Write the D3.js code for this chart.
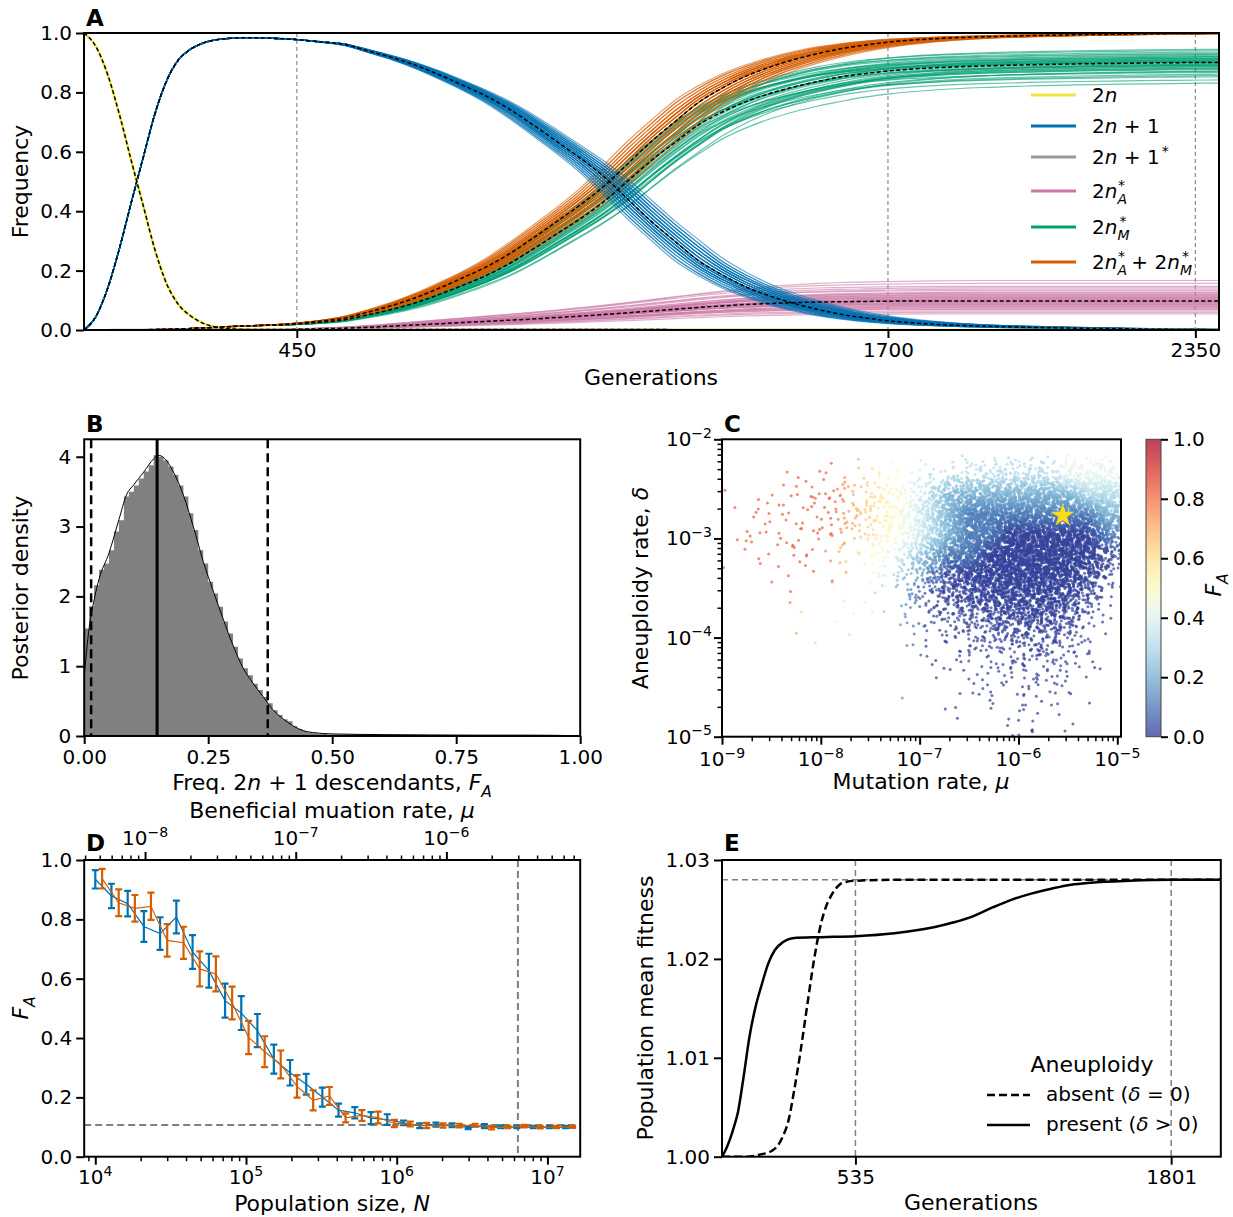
<!DOCTYPE html>
<html>
<head>
<meta charset="utf-8">
<script src="https://cdn.jsdelivr.net/npm/d3@7/dist/d3.min.js"></script>
<style>
  body { margin: 0; background: #fff; }
</style>
</head>
<body>
<div id="fig"></div>
<script>
// ---------------- Panel A: mean frequency trajectories ----------------
var gens = [0,25,50,75,100,125,150,175,200,225,250,275,300,350,400,
  450,500,550,600,650,700,750,800,850,900,950,1000,1050,1100,1150,1200,1250,1300,1350,1400,1450,1500,1550,1600,1650,1700,
  1800,1900,2000,2100,2200,2300,2400];
var freq2n = [1.0,0.955,0.86,0.725,0.57,0.42,0.27,0.155,0.085,0.048,0.024,0.011,0.005,0.001,0,
  0,0,0,0,0,0,0,0,0,0,0,0,0,0,0,0,0,0,0,0,0,0,0,0,0,0,
  0,0,0,0,0,0,0];
var freq2n1 = [0,0.045,0.14,0.275,0.43,0.58,0.728,0.84,0.91,0.945,0.965,0.976,0.981,0.984,0.982,
  0.978,0.97,0.962,0.94,0.918,0.892,0.86,0.825,0.788,0.743,0.69,0.634,0.578,0.515,0.44,0.365,0.298,0.233,0.185,0.145,0.115,0.09,0.07,0.053,0.041,0.031,
  0.019,0.013,0.009,0.006,0.004,0.002,0.001];
var freq2n1star = [0,0,0,0.001,0.001,0.001,0.002,0.002,0.002,0.002,0.002,0.002,0.002,0.002,0.002,
  0.002,0.002,0.002,0.002,0.002,0.002,0.002,0.002,0.002,0.002,0.002,0.002,0.002,0.002,0.002,0.002,0.001,0.001,0.001,0.001,0.001,0.001,0.001,0.001,0.001,null,
  null,null,null,null,null,null,null];
var freqA = [0,0,0,0,0,0,0,0,0,0,0,0,0,0,0,
  0.002,0.004,0.006,0.009,0.013,0.017,0.021,0.025,0.029,0.033,0.037,0.042,0.047,0.052,0.058,0.064,0.07,0.076,0.081,0.086,0.089,0.092,0.094,0.095,0.096,0.097,
  0.098,0.098,0.098,0.098,0.098,0.098,0.098];
var freqM = [0,0,0,0,0,0,0.001,0.002,0.003,0.005,0.007,0.009,0.011,0.014,0.017,
  0.02,0.026,0.034,0.051,0.069,0.091,0.119,0.15,0.183,0.224,0.273,0.324,0.375,0.433,0.502,0.571,0.632,0.691,0.734,0.769,0.796,0.818,0.836,0.852,0.863,0.872,
  0.883,0.889,0.893,0.896,0.898,0.9,0.901];
var freqAM = [0,0,0,0,0,0,0.001,0.002,0.003,0.005,0.007,0.009,0.011,0.014,0.017,
  0.022,0.03,0.04,0.06,0.082,0.108,0.14,0.175,0.212,0.257,0.31,0.366,0.422,0.485,0.56,0.635,0.702,0.767,0.815,0.855,0.885,0.91,0.93,0.947,0.959,0.969,
  0.981,0.987,0.991,0.994,0.996,0.998,0.999];
// replicate runs: relative sweep speed and relative size of the 2n_A* plateau
var repRate = [0.95,0.97,1.02,0.99,1.04,0.96,1.01,1.00,0.98,1.03,1.06,0.94,0.99,1.02,1.00,0.97,1.05,0.98,1.01,0.96,
  1.03,0.99,1.00,1.02,0.95,1.04,0.98,1.01,0.97,1.00,1.03,0.96,1.02,0.99,1.05,0.98,1.01,0.97,1.00,1.02];
var repAshare = [1.12,0.85,1.35,0.95,0.7,1.05,1.5,0.9,1.2,0.6,1.0,1.28,0.8,1.1,0.55,1.4,0.98,1.15,0.75,1.7,
  0.88,1.03,1.25,0.65,1.08,0.93,1.45,0.82,1.18,1.0,0.72,1.3,0.97,1.6,0.86,1.06,0.78,1.22,0.92,1.12];
var aTicks = [450, 1700, 2350];
var aYTicks = [0, 0.2, 0.4, 0.6, 0.8, 1.0];

// ---------------- Panel B: posterior of F_A ----------------
var binWidth = 0.01;
var histDensity = [1.54,1.86,2.16,2.38,2.47,2.66,2.93,3.09,3.43,3.50,
  3.59,3.69,3.79,3.88,4.02,4.00,3.95,3.86,3.74,3.59,
  3.43,3.19,2.95,2.66,2.47,2.21,2.04,1.85,1.64,1.47,
  1.28,1.11,0.97,0.87,0.75,0.66,0.56,0.47,0.37,0.30,
  0.24,0.21,0.14,0.10,0.07,0.05,0.04,0.03,0.03,0.02,
  0.02,0.02,0.02,0.02,0.02,0.02,0.02,0.02,0.015,0.015,
  0.015,0.015,0.015,0.015,0.015,0.015,0.015,0.015,0.015,0.015,
  0.015,0.015,0.015,0.015,0.015,0.012,0.012,0.012,0.012,0.012,
  0.012,0.012,0.012,0.012,0.012,0.012,0.012,0.012,0.012,0.012,
  0.012,0.012,0.012,0.012,0.012,0.01,0.01,0.01,0.008,0.006];
var kdeX = [0,0.01,0.02,0.03,0.05,0.07,0.085,0.1,0.12,0.14,0.15,0.16,0.18,0.2,0.22,0.24,0.26,0.28,0.3,0.32,0.34,0.36,0.38,0.4,0.42,0.44,0.46,0.5,0.6,0.7,0.8,0.9,0.95,1.0];
var kdeY = [0.85,1.55,1.95,2.25,2.62,3.1,3.45,3.6,3.78,3.97,4.02,3.99,3.78,3.45,3.0,2.5,2.08,1.68,1.3,0.98,0.76,0.57,0.38,0.25,0.15,0.08,0.05,0.03,0.02,0.015,0.012,0.012,0.01,0.003];
var faMedian = 0.147;
var faInterval = [0.014, 0.37];
var bXTicks = [0, 0.25, 0.5, 0.75, 1.0];
var bYTicks = [0, 1, 2, 3, 4];

// ---------------- Panel C: posterior sample density (cells of 0.2 decades) ----------------
// columns: log10(mu) from -9 in steps of 0.2; rows: log10(delta) from gridTop downwards in steps of 0.2
var cCount = [
  [0,0,0,0,0,0,0,0,0,0,0,0,0,0,0,0,0,0,0,0],
  [0,0,0,1,2,2,3,4,5,4,6,14,25,30,35,38,40,40,40,38],
  [1,1,2,5,6,8,10,15,18,22,45,85,120,140,150,150,150,150,150,140],
  [2,2,3,5,6,8,12,20,25,45,85,150,170,170,170,170,170,170,170,150],
  [2,4,3,5,5,7,8,12,15,30,80,140,170,180,180,180,180,180,170,120],
  [2,2,3,3,3,3,5,8,15,40,80,130,170,180,190,190,190,180,150,60],
  [0,0,1,1,2,2,2,3,6,20,45,80,130,160,180,180,170,150,90,25],
  [0,0,1,1,0,1,0,2,3,10,25,50,80,110,130,140,130,100,45,6],
  [0,0,0,1,1,1,1,0,2,5,12,25,40,60,80,90,85,55,18,2],
  [0,0,0,1,1,0,1,0,0,3,6,10,15,25,35,40,40,25,6,1],
  [0,0,0,0,0,0,0,0,0,2,3,4,8,10,15,20,18,12,5,0],
  [0,0,0,0,0,0,0,0,0,0,1,2,4,6,8,10,10,7,3,0],
  [0,0,0,0,0,0,0,0,0,1,0,1,3,4,5,6,5,3,1,0],
  [0,0,0,0,0,0,0,0,0,0,1,0,1,2,2,4,3,2,0,0],
  [0,0,0,0,0,0,0,0,0,0,0,0,0,0,2,3,3,1,0,0]
];
// typical F_A around each cell: digit d means F_A = d/10 + 0.02
var cFA = [
  "88888876543333333444",
  "88888876543333333444",
  "88888876543222222233",
  "88888876543211111112",
  "88888876543211000001",
  "88888765432110000000",
  "88888865321000000000",
  "88888763210000000000",
  "88875544210000000000",
  "88876633210000000000",
  "88876633210000000000",
  "88876633210000000000",
  "88876633210000000000",
  "88876633210000000000",
  "88876633210000000000"
];
var gridLeft = -9, gridTop = -2.05, cellStep = 0.2;
var starMu = 2.8e-6, starDelta = 1.7e-3;
var cbTicks = [0, 0.2, 0.4, 0.6, 0.8, 1.0];

// ---------------- Panel D: F_A against population size ----------------
var blueN = [1.00e4,1.28e4,1.64e4,2.10e4,2.69e4,3.45e4,4.42e4,5.67e4,7.26e4,9.30e4,1.19e5,1.53e5,1.96e5,2.51e5,3.21e5,
  4.11e5,5.27e5,6.75e5,8.65e5,1.11e6,1.42e6,1.82e6,2.33e6,2.98e6,3.82e6,4.90e6,6.27e6,8.04e6,1.03e7,1.32e7];
var blueFA = [0.935,0.879,0.853,0.776,0.752,0.808,0.69,0.627,0.526,0.484,0.425,0.329,0.283,0.244,0.201,
  0.157,0.148,0.13,0.125,0.114,0.104,0.108,0.106,0.098,0.103,0.101,0.10,0.10,0.10,0.10];
var blueErr = [0.031,0.041,0.043,0.052,0.055,0.055,0.057,0.057,0.057,0.057,0.056,0.049,0.043,0.035,0.032,
  0.022,0.019,0.02,0.018,0.008,0.008,0.007,0.006,0.005,0.007,0.005,0.004,0.004,0.004,0.004];
var orangeN = [1.11e4,1.43e4,1.83e4,2.34e4,3.00e4,3.85e4,4.93e4,6.31e4,8.09e4,1.04e5,1.33e5,1.70e5,2.18e5,2.79e5,3.58e5,
  4.58e5,5.87e5,7.52e5,9.64e5,1.23e6,1.58e6,2.03e6,2.60e6,3.32e6,4.26e6,5.46e6,6.99e6,8.96e6,1.15e7,1.47e7];
var orangeFA = [0.937,0.856,0.837,0.844,0.729,0.721,0.633,0.616,0.518,0.402,0.354,0.311,0.237,0.19,0.205,
  0.131,0.139,0.132,0.112,0.11,0.105,0.105,0.105,0.106,0.098,0.1,0.103,0.099,0.1,0.1];
var orangeErr = [0.033,0.045,0.045,0.046,0.055,0.054,0.059,0.059,0.055,0.056,0.052,0.047,0.038,0.034,0.03,
  0.015,0.018,0.02,0.012,0.008,0.009,0.007,0.006,0.005,0.006,0.004,0.004,0.004,0.004,0.003];
var dNref = 6.37e6, dFref = 0.107;
var dYTicks = [0, 0.2, 0.4, 0.6, 0.8, 1.0];

// ---------------- Panel E: population mean fitness ----------------
var absentGen = [0,100,150,200,220,243,267,290,314,340,369,390,408,440,471,500,535,700,1000,2000];
var absentFit = [1.0,1.0,1.0002,1.0006,1.001,1.002,1.0037,1.0068,1.0105,1.015,1.0199,1.0228,1.0246,1.0265,1.0275,1.0278,1.0279,1.028,1.028,1.028];
var presentGen = [0,15,31,50,63,85,110,135,157,185,212,245,283,400,535,692,849,930,1006,1085,1163,1240,1321,1400,1478,1635,1801,2000];
var presentFit = [1.0,1.0007,1.0017,1.0032,1.0044,1.0078,1.0121,1.0152,1.0172,1.0195,1.0209,1.0217,1.0221,1.0222,1.0223,1.0226,1.0232,1.0237,1.0243,1.0252,1.026,1.0266,1.0271,1.0275,1.0277,1.0279,1.028,1.028];
var eTicks = [535, 1801];
var eYTicks = [1.00, 1.01, 1.02, 1.03];
var eFitMax = 1.028;

// ---------------------------------------------------------------------
var FONT = '"DejaVu Sans", sans-serif';
var TICK_FS = 20, LABEL_FS = 22;

var svg = d3.select("#fig").append("svg")
  .attr("width", 1233).attr("height", 1217)
  .attr("font-family", FONT);
svg.append("rect").attr("width", 1233).attr("height", 1217).attr("fill", "#fff");
var defs = svg.append("defs");

function clip(id, box) {
  defs.append("clipPath").attr("id", id).append("rect")
    .attr("x", box.l).attr("y", box.t).attr("width", box.r - box.l).attr("height", box.b - box.t);
}
function frame(box) {
  svg.append("rect").attr("x", box.l).attr("y", box.t)
    .attr("width", box.r - box.l).attr("height", box.b - box.t)
    .attr("fill", "none").attr("stroke", "#000").attr("stroke-width", 2);
}
function styleAxis(g, w) {
  g.attr("font-family", FONT).attr("font-size", TICK_FS);
  g.select(".domain").remove();
  g.selectAll(".tick line").attr("stroke-width", w || 2);
  g.selectAll(".tick text").attr("fill", "#000");
}
// text with italics, subscripts and superscripts
function rich(text, parts, fs) {
  var level = 0;
  parts.forEach(function (p) {
    var want = p.sub ? 0.3 * fs : (p.sup ? -0.42 * fs : 0);
    var ts = text.append("tspan").text(p.t).attr("dy", want - level);
    level = want;
    if (p.sub || p.sup) ts.attr("font-size", 0.7 * fs);
    if (p.it) ts.attr("font-style", "italic");
    if (p.dx) ts.attr("dx", p.dx);
  });
  return text;
}
function label(x, y, parts, opts) {
  opts = opts || {};
  var t = svg.append("text").attr("font-size", opts.fs || LABEL_FS)
    .attr("text-anchor", opts.anchor || "middle");
  if (opts.rotate) t.attr("transform", "translate(" + x + "," + y + ") rotate(-90)");
  else t.attr("x", x).attr("y", y);
  if (opts.bold) t.attr("font-weight", "bold");
  return rich(t, parts, opts.fs || LABEL_FS);
}
function powText(t, e) {
  t.append("tspan").text("10");
  t.append("tspan").attr("dy", -0.42 * TICK_FS).attr("font-size", 0.7 * TICK_FS)
    .text(e < 0 ? "\u2212" + (-e) : String(e));
}
function decades(dom) {
  var a = [];
  for (var e = Math.ceil(Math.log10(dom[0]) - 1e-9); e <= Math.floor(Math.log10(dom[1]) + 1e-9); e++) a.push(e);
  return a;
}
function minors(dom) {
  var a = [];
  for (var e = Math.floor(Math.log10(dom[0])); e <= Math.ceil(Math.log10(dom[1])); e++)
    for (var m = 2; m <= 9; m++) {
      var v = m * Math.pow(10, e);
      if (v >= dom[0] && v <= dom[1]) a.push(v);
    }
  return a;
}
// log axis along x (bottom or top) with 10^k labels
function logAxisX(scale, y, top, baseline) {
  var dom = scale.domain();
  var mk = top ? d3.axisTop : d3.axisBottom;
  svg.append("g").attr("transform", "translate(0," + y + ")")
    .call(mk(scale).tickValues(minors(dom)).tickSize(4.5).tickFormat(""))
    .call(styleAxis, 1.5);
  svg.append("g").attr("transform", "translate(0," + y + ")")
    .call(mk(scale).tickValues(decades(dom).map(function (e) { return Math.pow(10, e); })).tickSize(8).tickFormat(""))
    .call(styleAxis);
  decades(dom).forEach(function (e) {
    var t = svg.append("text").attr("x", scale(Math.pow(10, e))).attr("y", baseline)
      .attr("text-anchor", "middle").attr("font-size", TICK_FS);
    powText(t, e);
  });
}
function logAxisY(scale, x, labelX) {
  var dom = scale.domain();
  svg.append("g").attr("transform", "translate(" + x + ",0)")
    .call(d3.axisLeft(scale).tickValues(minors(dom)).tickSize(4.5).tickFormat(""))
    .call(styleAxis, 1.5);
  svg.append("g").attr("transform", "translate(" + x + ",0)")
    .call(d3.axisLeft(scale).tickValues(decades(dom).map(function (e) { return Math.pow(10, e); })).tickSize(8).tickFormat(""))
    .call(styleAxis);
  decades(dom).forEach(function (e) {
    var t = svg.append("text").attr("x", labelX).attr("y", scale(Math.pow(10, e)) + 7)
      .attr("text-anchor", "end").attr("font-size", TICK_FS);
    powText(t, e);
  });
}

// ============================ Panel A ============================
var A = {l: 84, r: 1219, t: 33, b: 330};
var xA = d3.scaleLinear().domain([0, 2400]).range([A.l, A.r]);
var yA = d3.scaleLinear().domain([0, 1]).range([A.b, A.t]);
clip("clipA", A);
var gA = svg.append("g").attr("clip-path", "url(#clipA)");

aTicks.forEach(function (t) {
  gA.append("line").attr("x1", xA(t)).attr("x2", xA(t)).attr("y1", A.t).attr("y2", A.b)
    .attr("stroke", "#8c8c8c").attr("stroke-width", 1.2).attr("stroke-dasharray", "4,3");
});

function interp(ys) {
  var g = [], v = [];
  gens.forEach(function (t, i) { if (ys[i] != null) { g.push(t); v.push(ys[i]); } });
  return d3.scaleLinear().domain(g).range(v).clamp(true);
}
function stretch(t, pivot, k) { return t < pivot ? t : pivot + (t - pivot) * k; }
var fAM = interp(freqAM), fA = interp(freqA), f1 = interp(freq2n1);
var lineA = d3.line().x(function (d) { return xA(d[0]); }).y(function (d) { return yA(d[1]); })
  .curve(d3.curveMonotoneX);

var reps = repRate.map(function (k, i) {
  var am = gens.map(function (t) { return [t, fAM(stretch(t, 300, k))]; });
  var a = gens.map(function (t) { return [t, fA(stretch(t, 400, k)) * repAshare[i]]; });
  var m = am.map(function (d, j) { return [d[0], Math.max(0, d[1] - a[j][1])]; });
  var b = gens.map(function (t) { return [t, f1(stretch(t, 400, k))]; });
  return {am: am, a: a, m: m, b: b};
});

function repLines(key, color, op) {
  gA.append("g").selectAll("path").data(reps).enter().append("path")
    .attr("d", function (d) { return lineA(d[key]); })
    .attr("fill", "none").attr("stroke", color).attr("stroke-width", 1.2).attr("stroke-opacity", op);
}
repLines("m", "#009e73", 0.6);
repLines("am", "#d55e00", 0.6);
repLines("a", "#cc79a7", 0.6);
repLines("b", "#0072b2", 0.6);

gA.append("path").datum(gens.map(function (t, i) { return [t, freq2n1star[i]]; }).filter(function (d) { return d[1] != null; }))
  .attr("d", lineA).attr("fill", "none").attr("stroke", "#999999").attr("stroke-width", 2);
gA.append("path").datum(gens.map(function (t, i) { return [t, freq2n[i]]; }))
  .attr("d", lineA).attr("fill", "none").attr("stroke", "#f0e442").attr("stroke-width", 2.5);

[freq2n, freq2n1, freq2n1star, freqA, freqM, freqAM].forEach(function (ys) {
  gA.append("path")
    .datum(gens.map(function (t, i) { return [t, ys[i]]; }).filter(function (d) { return d[1] != null; }))
    .attr("d", lineA).attr("fill", "none").attr("stroke", "#000").attr("stroke-width", 1.5)
    .attr("stroke-dasharray", "4,2.5");
});

// legend
var legendA = [
  {c: "#f0e442", y: 95, parts: [{t: "2"}, {t: "n", it: 1}]},
  {c: "#0072b2", y: 126, parts: [{t: "2"}, {t: "n", it: 1}, {t: " + 1"}]},
  {c: "#999999", y: 157, parts: [{t: "2"}, {t: "n", it: 1}, {t: " + 1"}, {t: "*", sup: 1, dx: 2}]},
  {c: "#cc79a7", y: 191, parts: [{t: "2"}, {t: "n", it: 1}, {t: "A", sub: 1, it: 1}, {t: "*", sup: 1, dx: -9}]},
  {c: "#009e73", y: 227, parts: [{t: "2"}, {t: "n", it: 1}, {t: "M", sub: 1, it: 1}, {t: "*", sup: 1, dx: -10}]},
  {c: "#d55e00", y: 262, parts: [{t: "2"}, {t: "n", it: 1}, {t: "A", sub: 1, it: 1}, {t: "*", sup: 1, dx: -9},
    {t: " + 2"}, {t: "n", it: 1}, {t: "M", sub: 1, it: 1}, {t: "*", sup: 1, dx: -10}]}
];
legendA.forEach(function (L) {
  svg.append("line").attr("x1", 1031).attr("x2", 1076).attr("y1", L.y).attr("y2", L.y)
    .attr("stroke", L.c).attr("stroke-width", 3);
  label(1092, L.y + 7, L.parts, {anchor: "start", fs: 20});
});

svg.append("g").attr("transform", "translate(" + A.l + ",0)")
  .call(d3.axisLeft(yA).tickValues(aYTicks).tickFormat(d3.format(".1f")).tickSize(8).tickPadding(4))
  .call(styleAxis);
svg.append("g").attr("transform", "translate(0," + A.b + ")")
  .call(d3.axisBottom(xA).tickValues(aTicks).tickFormat(d3.format("d")).tickSize(8).tickPadding(5))
  .call(styleAxis);
frame(A);
label(651, 385, [{t: "Generations"}]);
label(28, 181.5, [{t: "Frequency"}], {rotate: 1});
label(86, 26, [{t: "A"}], {anchor: "start", bold: 1, fs: 23});

// ============================ Panel B ============================
var B = {l: 84.2, r: 580.2, t: 439.3, b: 736};
var xB = d3.scaleLinear().domain([0, 1]).range([B.l, B.r]);
var yB = d3.scaleLinear().domain([0, 4.25]).range([B.b, B.t]);
clip("clipB", B);
var gB = svg.append("g").attr("clip-path", "url(#clipB)");
var histSteps = histDensity.map(function (d, i) { return [i * binWidth, d]; });
histSteps.push([histDensity.length * binWidth, histDensity[histDensity.length - 1]]);
gB.append("path").datum(histSteps)
  .attr("d", d3.area().x(function (d) { return xB(d[0]); }).y0(yB(0)).y1(function (d) { return yB(d[1]); })
    .curve(d3.curveStepAfter))
  .attr("fill", "#808080");
gB.append("path").datum(kdeX.map(function (x, i) { return [x, kdeY[i]]; }))
  .attr("d", d3.line().x(function (d) { return xB(d[0]); }).y(function (d) { return yB(d[1]); }).curve(d3.curveMonotoneX))
  .attr("fill", "none").attr("stroke", "#000").attr("stroke-width", 1);
gB.append("line").attr("x1", xB(faMedian)).attr("x2", xB(faMedian)).attr("y1", B.t).attr("y2", B.b)
  .attr("stroke", "#000").attr("stroke-width", 3);
faInterval.forEach(function (v) {
  gB.append("line").attr("x1", xB(v)).attr("x2", xB(v)).attr("y1", B.t).attr("y2", B.b)
    .attr("stroke", "#000").attr("stroke-width", 2.5).attr("stroke-dasharray", "9,5");
});
svg.append("g").attr("transform", "translate(" + B.l + ",0)")
  .call(d3.axisLeft(yB).tickValues(bYTicks).tickFormat(d3.format("d")).tickSize(8).tickPadding(5))
  .call(styleAxis);
svg.append("g").attr("transform", "translate(0," + B.b + ")")
  .call(d3.axisBottom(xB).tickValues(bXTicks).tickFormat(d3.format(".2f")).tickSize(8).tickPadding(6))
  .call(styleAxis);
frame(B);
label(332, 790, [{t: "Freq. 2"}, {t: "n", it: 1}, {t: " + 1 descendants, "}, {t: "F", it: 1}, {t: "A", sub: 1, it: 1}]);
label(28, 588, [{t: "Posterior density"}], {rotate: 1});
label(86, 432, [{t: "B"}], {anchor: "start", bold: 1, fs: 23});

// ============================ Panel C ============================
var C = {l: 722, r: 1121, t: 439.3, b: 736.7};
var xC = d3.scaleLog().domain([1e-9, 1.09e-5]).range([C.l, C.r]);
var yC = d3.scaleLog().domain([1e-5, 1e-2]).range([C.b, C.t]);
var faColor = function (f) { return d3.interpolateRdYlBu(1 - f); };
var nRows = cFA.length, nCols = cFA[0].length;
function cellFA(r, c) {
  r = Math.max(0, Math.min(nRows - 1, r));
  c = Math.max(0, Math.min(nCols - 1, c));
  return +cFA[r][c] / 10 + 0.02;
}
// blend the cell values between neighbouring cell centres
function faAt(cu, rv) {
  var x = cu - 0.5, y = rv - 0.5;
  var c0 = Math.floor(x), r0 = Math.floor(y), tx = x - c0, ty = y - r0;
  var top = d3.interpolateNumber(cellFA(r0, c0), cellFA(r0, c0 + 1))(tx);
  var bot = d3.interpolateNumber(cellFA(r0 + 1, c0), cellFA(r0 + 1, c0 + 1))(tx);
  return d3.interpolateNumber(top, bot)(ty);
}
// Halton sequence for spreading each cell's samples (tent profile over neighbours)
function halton(i, b) {
  var f = 1, r = 0;
  while (i > 0) { f /= b; r += f * (i % b); i = Math.floor(i / b); }
  return r;
}
clip("clipC", C);
var gC = svg.append("g").attr("clip-path", "url(#clipC)");
var pts = [];
var seq = 200;
cCount.forEach(function (row, r) {
  row.forEach(function (n, c) {
    for (var i = 0; i < n; i++) {
      seq++;
      var u = c - 0.5 + halton(seq, 2) + halton(seq, 5);
      var v = r - 0.5 + halton(seq, 3) + halton(seq, 7);
      pts.push({
        mu: Math.pow(10, gridLeft + cellStep * u),
        delta: Math.pow(10, gridTop - cellStep * v),
        fa: faAt(u, v)
      });
    }
  });
});
gC.selectAll("circle").data(pts).enter().append("circle")
  .attr("cx", function (d) { return xC(d.mu); })
  .attr("cy", function (d) { return yC(d.delta); })
  .attr("r", 1.5)
  .attr("fill", function (d) { return faColor(d.fa); })
  .attr("fill-opacity", 0.72);
gC.append("path").attr("d", d3.symbol(d3.symbolStar, 170)())
  .attr("transform", "translate(" + xC(starMu) + "," + yC(starDelta) + ")")
  .attr("fill", "#f7dc16");
logAxisX(xC, C.b, false, 766);
logAxisY(yC, C.l, 712);
frame(C);
label(921, 789, [{t: "Mutation rate, "}, {t: "\u03bc", it: 1}]);
label(648, 588, [{t: "Aneuploidy rate, "}, {t: "\u03b4", it: 1}], {rotate: 1});
label(724, 432, [{t: "C"}], {anchor: "start", bold: 1, fs: 23});

// colorbar
var CB = {l: 1146, r: 1161, t: 439.3, b: 736.7};
var cbScale = d3.scaleLinear().domain([0, 1]).range([CB.b, CB.t]);
var grad = defs.append("linearGradient").attr("id", "cbGrad")
  .attr("x1", 0).attr("y1", 1).attr("x2", 0).attr("y2", 0);
d3.range(0, 1.0001, 0.05).forEach(function (f) {
  grad.append("stop").attr("offset", f).attr("stop-color", faColor(f));
});
svg.append("rect").attr("x", CB.l).attr("y", CB.t).attr("width", CB.r - CB.l).attr("height", CB.b - CB.t)
  .attr("fill", "url(#cbGrad)").attr("fill-opacity", 0.75).attr("stroke", "#444").attr("stroke-width", 1);
svg.append("g").attr("transform", "translate(" + CB.r + ",0)")
  .call(d3.axisRight(cbScale).tickValues(cbTicks).tickFormat(d3.format(".1f")).tickSize(7).tickPadding(5))
  .call(styleAxis);
label(1221, 585, [{t: "F", it: 1}, {t: "A", sub: 1, it: 1}], {rotate: 1});

// ============================ Panel D ============================
var D = {l: 84.2, r: 580.2, t: 860, b: 1156.7};
var xD = d3.scaleLog().domain([8.44e3, 1.65e7]).range([D.l, D.r]);
var xDmu = d3.scaleLog().domain([3.945e-9, 7.73e-6]).range([D.l, D.r]);
var yD = d3.scaleLinear().domain([0, 1]).range([D.b, D.t]);
clip("clipD", D);
var gD = svg.append("g").attr("clip-path", "url(#clipD)");
gD.append("line").attr("x1", D.l).attr("x2", D.r).attr("y1", yD(dFref)).attr("y2", yD(dFref))
  .attr("stroke", "#808080").attr("stroke-width", 2).attr("stroke-dasharray", "7,4");
gD.append("line").attr("x1", xD(dNref)).attr("x2", xD(dNref)).attr("y1", D.t).attr("y2", D.b)
  .attr("stroke", "#808080").attr("stroke-width", 2).attr("stroke-dasharray", "7,4");

function errSeries(Ns, F, E, color) {
  var rows = Ns.map(function (n, i) { return {n: n, f: F[i], e: E[i]}; });
  gD.append("path").datum(rows)
    .attr("d", d3.line().x(function (d) { return xD(d.n); }).y(function (d) { return yD(d.f); }))
    .attr("fill", "none").attr("stroke", color).attr("stroke-width", 1.2);
  var eb = gD.append("g").selectAll("g").data(rows).enter().append("g")
    .attr("stroke", color).attr("stroke-width", 2.2);
  eb.append("line").attr("x1", function (d) { return xD(d.n); }).attr("x2", function (d) { return xD(d.n); })
    .attr("y1", function (d) { return yD(d.f - d.e); }).attr("y2", function (d) { return yD(d.f + d.e); });
  [-1, 1].forEach(function (s) {
    eb.append("line").attr("x1", function (d) { return xD(d.n) - 3.5; }).attr("x2", function (d) { return xD(d.n) + 3.5; })
      .attr("y1", function (d) { return yD(d.f + s * d.e); }).attr("y2", function (d) { return yD(d.f + s * d.e); });
  });
}
errSeries(blueN, blueFA, blueErr, "#0072b2");
errSeries(orangeN, orangeFA, orangeErr, "#d55e00");

svg.append("g").attr("transform", "translate(" + D.l + ",0)")
  .call(d3.axisLeft(yD).tickValues(dYTicks).tickFormat(d3.format(".1f")).tickSize(8).tickPadding(4))
  .call(styleAxis);
logAxisX(xD, D.b, false, 1184);
logAxisX(xDmu, D.t, true, 845);
frame(D);
label(332, 1211, [{t: "Population size, "}, {t: "N", it: 1}]);
label(332, 818, [{t: "Beneficial muation rate, "}, {t: "\u03bc", it: 1}]);
label(28, 1008, [{t: "F", it: 1}, {t: "A", sub: 1, it: 1}], {rotate: 1});
label(86, 851, [{t: "D"}], {anchor: "start", bold: 1, fs: 23});

// ============================ Panel E ============================
var E = {l: 722, r: 1220.8, t: 860, b: 1156.7};
var xE = d3.scaleLinear().domain([0, 2000]).range([E.l, E.r]);
var yE = d3.scaleLinear().domain([1.0, 1.03]).range([E.b, E.t]);
clip("clipE", E);
var gE = svg.append("g").attr("clip-path", "url(#clipE)");
eTicks.forEach(function (t) {
  gE.append("line").attr("x1", xE(t)).attr("x2", xE(t)).attr("y1", E.t).attr("y2", E.b)
    .attr("stroke", "#808080").attr("stroke-width", 1.5).attr("stroke-dasharray", "6,4");
});
gE.append("line").attr("x1", E.l).attr("x2", E.r).attr("y1", yE(eFitMax)).attr("y2", yE(eFitMax))
  .attr("stroke", "#808080").attr("stroke-width", 1.5).attr("stroke-dasharray", "6,4");
var lineE = d3.line().x(function (d) { return xE(d[0]); }).y(function (d) { return yE(d[1]); }).curve(d3.curveMonotoneX);
gE.append("path").datum(absentGen.map(function (g, i) { return [g, absentFit[i]]; }))
  .attr("d", lineE).attr("fill", "none").attr("stroke", "#000").attr("stroke-width", 2.5)
  .attr("stroke-dasharray", "8,4");
gE.append("path").datum(presentGen.map(function (g, i) { return [g, presentFit[i]]; }))
  .attr("d", lineE).attr("fill", "none").attr("stroke", "#000").attr("stroke-width", 2.5);

svg.append("g").attr("transform", "translate(" + E.l + ",0)")
  .call(d3.axisLeft(yE).tickValues(eYTicks).tickFormat(d3.format(".2f")).tickSize(8).tickPadding(4))
  .call(styleAxis);
svg.append("g").attr("transform", "translate(0," + E.b + ")")
  .call(d3.axisBottom(xE).tickValues(eTicks).tickFormat(d3.format("d")).tickSize(8).tickPadding(5))
  .call(styleAxis);
frame(E);
label(971, 1210, [{t: "Generations"}]);
label(653, 1008, [{t: "Population mean fitness"}], {rotate: 1});
label(724, 851, [{t: "E"}], {anchor: "start", bold: 1, fs: 23});

// legend E
label(1092, 1072, [{t: "Aneuploidy"}]);
svg.append("line").attr("x1", 987).attr("x2", 1030).attr("y1", 1095).attr("y2", 1095)
  .attr("stroke", "#000").attr("stroke-width", 2.5).attr("stroke-dasharray", "8,4");
svg.append("line").attr("x1", 987).attr("x2", 1030).attr("y1", 1125).attr("y2", 1125)
  .attr("stroke", "#000").attr("stroke-width", 2.5);
label(1046, 1101, [{t: "absent ("}, {t: "\u03b4", it: 1}, {t: " = 0)"}], {anchor: "start", fs: 20});
label(1046, 1131, [{t: "present ("}, {t: "\u03b4", it: 1}, {t: " > 0)"}], {anchor: "start", fs: 20});
</script>
</body>
</html>
